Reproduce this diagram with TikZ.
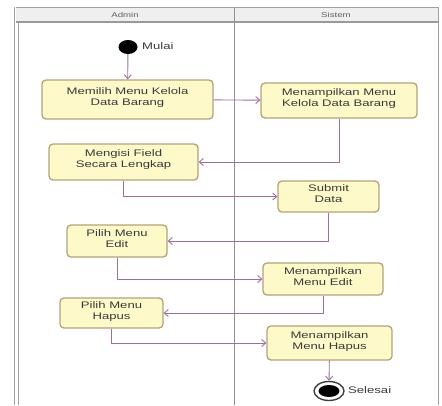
\documentclass[tikz,border=0pt]{standalone}
\usepackage{fontspec}
\newfontfamily\diagfont[FakeStretch=1.38]{Liberation Sans}
\usetikzlibrary{arrows.meta,shapes.geometric}
\definecolor{actfill}{HTML}{FDF9C9}
\definecolor{actline}{HTML}{B4A27A}
\definecolor{flowline}{HTML}{9C6F9C}
\definecolor{laneline}{HTML}{9A8A9A}
\definecolor{headfill}{HTML}{EFEFEF}
\definecolor{frameline}{HTML}{A0A0A0}
\definecolor{textcol}{HTML}{3A3A3A}
\tikzset{
  action/.style={draw=actline, line width=1.3pt, fill=actfill, rounded corners=4pt,
    align=center, inner sep=1pt, font=\diagfont\fontsize{9.5}{11}\selectfont, text=textcol},
  flow/.style={draw=flowline, line width=0.9pt, -{Straight Barb[length=4pt,width=7pt]}},
  lanetitle/.style={font=\diagfont\fontsize{7}{8}\selectfont, text=textcol!80},
  caption/.style={font=\diagfont\fontsize{9.5}{11}\selectfont, text=textcol, anchor=west, inner sep=0pt},
  initial/.style={ellipse, fill=black, minimum width=19pt, minimum height=14pt, inner sep=0pt},
}
\begin{document}
\begin{tikzpicture}[x=1pt,y=-1pt]
  \useasboundingbox (0,0) rectangle (442,405);
  \fill[white] (0,0) rectangle (442,405);

  % swimlane frame
  \fill[headfill] (16,7) rectangle (438,22);
  \draw[frameline, line width=0.8pt] (16,7) -- (438,7);
  \draw[frameline, line width=0.8pt] (14,7) -- (14,405);
  \draw[frameline, line width=0.6pt] (18,22) -- (18,405);
  \draw[frameline, line width=0.8pt] (438,7) -- (438,405);
  \draw[gray!80, line width=1.2pt] (16,22) -- (438,22);
  \draw[laneline, line width=1pt] (234,7) -- (234,405);
  \node[lanetitle] (laneAdmin) at (125,15) {Admin};
  \node[lanetitle] (laneSistem) at (336,15) {Sistem};

  % start and end
  \node[initial] (start) at (128,47) {};
  \node[caption] (mulai) at (142,46) {Mulai};
  \node[ellipse, draw=black!75, line width=1.4pt, fill=white, minimum width=30pt, minimum height=19pt, inner sep=0pt] (finish) at (329,391) {};
  \node[ellipse, fill=black, minimum width=21pt, minimum height=12pt, inner sep=0pt] (finishcore) at (329,391) {};
  \node[caption] (selesai) at (348,390) {Selesai};

  % activities
  \node[action, minimum width=171pt, minimum height=39pt] (memilih) at (127.5,99.5)
    {Memilih Menu Kelola\\Data Barang\rule[-6pt]{0pt}{0pt}};
  \node[action, minimum width=156pt, minimum height=35pt] (tampilKelola) at (339,100.5)
    {Menampilkan Menu\\Kelola Data Barang\rule[-5pt]{0pt}{0pt}};
  \node[action, minimum width=149pt, minimum height=36pt] (mengisi) at (123.5,162)
    {Mengisi Field\\Secara Lengkap\rule[-6pt]{0pt}{0pt}};
  \node[action, minimum width=101pt, minimum height=31pt] (submit) at (328.5,196.5)
    {Submit\\Data\rule[-5pt]{0pt}{0pt}};
  \node[action, minimum width=100pt, minimum height=32pt] (pilihEdit) at (117,241)
    {Pilih Menu\\Edit\rule[-5pt]{0pt}{0pt}};
  \node[action, minimum width=120pt, minimum height=32pt] (tampilEdit) at (323,279)
    {Menampilkan\\Menu Edit\rule[-5pt]{0pt}{0pt}};
  \node[action, minimum width=103pt, minimum height=30pt] (pilihHapus) at (111.5,313)
    {Pilih Menu\\Hapus\rule[-5pt]{0pt}{0pt}};
  \node[action, minimum width=125pt, minimum height=34pt] (tampilHapus) at (329.5,343)
    {Menampilkan\\Menu Hapus\rule[-4pt]{0pt}{0pt}};

  % control flow
  \draw[flow] (start) -- (memilih);
  \draw[flow] (memilih) -- (tampilKelola);
  \draw[flow] (tampilKelola.south) |- (mengisi.east);
  \draw[flow] (mengisi.south) |- (submit.west);
  \draw[flow] (submit.south) |- (pilihEdit.east);
  \draw[flow] (pilihEdit.south) |- (tampilEdit.west);
  \draw[flow] (tampilEdit.south) |- (pilihHapus.east);
  \draw[flow] (pilihHapus.south) |- (tampilHapus.west);
  \draw[flow] (tampilHapus) -- (finish);
\end{tikzpicture}
\end{document}
